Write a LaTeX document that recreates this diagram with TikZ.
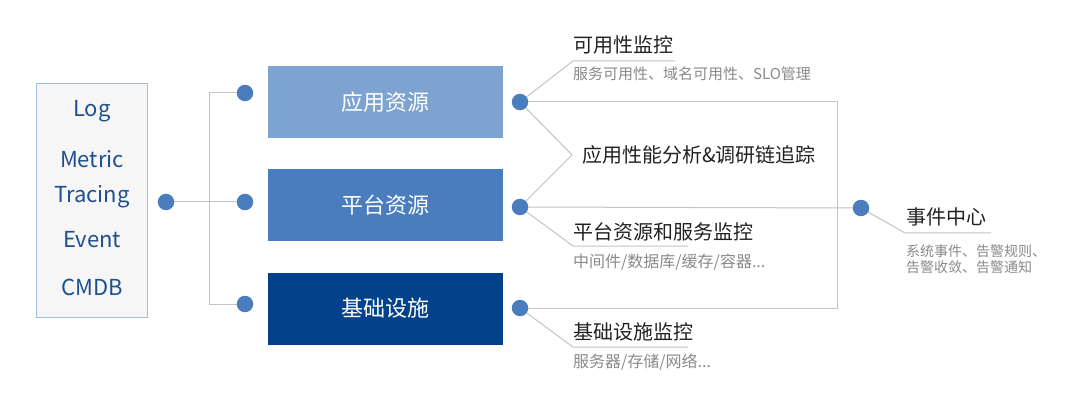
\documentclass[tikz,border=0pt]{standalone}
\usepackage{fontspec}
\setmainfont{Noto Sans CJK SC}
\usetikzlibrary{backgrounds}
\definecolor{boxA}{HTML}{7FA3D1}
\definecolor{boxB}{HTML}{4A7DBE}
\definecolor{boxC}{HTML}{03428A}
\definecolor{dotc}{HTML}{4A7DBE}
\definecolor{linec}{HTML}{C3C3C3}
\definecolor{srcborder}{HTML}{A3BFE0}
\definecolor{srcfill}{HTML}{F6F6F6}
\definecolor{srctext}{HTML}{1F4F8F}
\definecolor{titlec}{HTML}{222222}
\definecolor{subc}{HTML}{8A8A8A}
\tikzset{
  dot/.style={circle, fill=dotc, minimum size=16.5pt, inner sep=0pt},
  resbox/.style={minimum width=235pt, minimum height=72pt, inner sep=0pt, text=white, font=\fontsize{22}{26}\selectfont},
  srctxt/.style={text=srctext, inner sep=0pt, font=\fontsize{22}{26}\selectfont},
  ttl/.style={anchor=west, inner sep=0pt, text=titlec, font=\fontsize{20}{24}\selectfont},
  sub/.style={anchor=west, inner sep=0pt, text=subc, font=\fontsize{16}{18}\selectfont},
  conn/.style={draw=linec, line width=1pt}
}
\begin{document}
\begin{tikzpicture}[x=1pt,y=-1pt]
\useasboundingbox (0,0) rectangle (1080,417);
% source box
\node[draw=srcborder, fill=srcfill, line width=1pt, minimum width=111pt, minimum height=233pt, inner sep=0pt] (src) at (92,200.5) {};
\node[srctxt] (tlog) at (92,111) {Log};
\node[srctxt] (tmet) at (92,159) {Metric};
\node[srctxt] (ttra) at (92,197) {Tracing};
\node[srctxt] (tevt) at (92,240) {Event};
\node[srctxt] (tcmdb) at (92,287) {CMDB};
% dots
\node[dot] (d0) at (166,202) {};
\node[dot] (l1) at (245,93) {};
\node[dot] (l2) at (245,202) {};
\node[dot] (l3) at (245,304) {};
% resource boxes
\node[resbox, fill=boxA] (b1) at (385.5,102) {应用资源};
\node[resbox, fill=boxB] (b2) at (385.5,205) {平台资源};
\node[resbox, fill=boxC] (b3) at (385.5,308.5) {基础设施};
% right dots
\node[dot] (r1) at (520,102) {};
\node[dot] (r2) at (520,207) {};
\node[dot] (r3) at (520,308) {};
\node[dot] (ev) at (861,208) {};
% corner coordinates
\coordinate (brk) at (209,202);
\coordinate (rv) at (837,102);
\coordinate (k1) at (573,61);
\coordinate (k1e) at (675,61);
\coordinate (kmid) at (572,155);
\coordinate (k2) at (573,246);
\coordinate (k2e) at (688,246);
\coordinate (k3) at (573,347);
\coordinate (k3e) at (688,347);
\coordinate (ke) at (905,233);
\coordinate (kee) at (991,233);
% labels
\node[ttl] (t1) at (573,45) {可用性监控};
\node[sub, font=\fontsize{15}{18}\selectfont] (s1) at (573,74) {服务可用性、域名可用性、SLO管理};
\node[ttl] (tm) at (582,155) {应用性能分析\&调研链追踪};
\node[ttl] (t2) at (573,232) {平台资源和服务监控};
\node[sub] (s2) at (573,262) {中间件/数据库/缓存/容器...};
\node[ttl] (t3) at (573,332) {基础设施监控};
\node[sub] (s3) at (573,362) {服务器/存储/网络...};
\node[ttl] (te) at (906,217) {事件中心};
\node[sub, align=left, font=\fontsize{14}{16}\selectfont] (se) at (906,259) {系统事件、告警规则、\\告警收敛、告警通知};
% connectors
\begin{pgfonlayer}{background}
\fill[white] (0,0) rectangle (1080,417);
\draw[conn] (d0.center) -- (l2.center);
\draw[conn] (brk |- l1.center) -- (l1.center);
\draw[conn] (brk |- l1.center) -- (brk |- l3.center) -- (l3.center);
\draw[conn] (r1.center) -- (rv) -- (rv |- r3.center) -- (r3.center);
\draw[conn] (r2.center) -- (ev.center);
\draw[conn] (r1.center) -- (k1) -- (k1e);
\draw[conn] (r1.center) -- (kmid) -- (r2.center);
\draw[conn] (r2.center) -- (k2) -- (k2e);
\draw[conn] (r3.center) -- (k3) -- (k3e);
\draw[conn] (ev.center) -- (ke) -- (kee);
\end{pgfonlayer}
\end{tikzpicture}
\end{document}
